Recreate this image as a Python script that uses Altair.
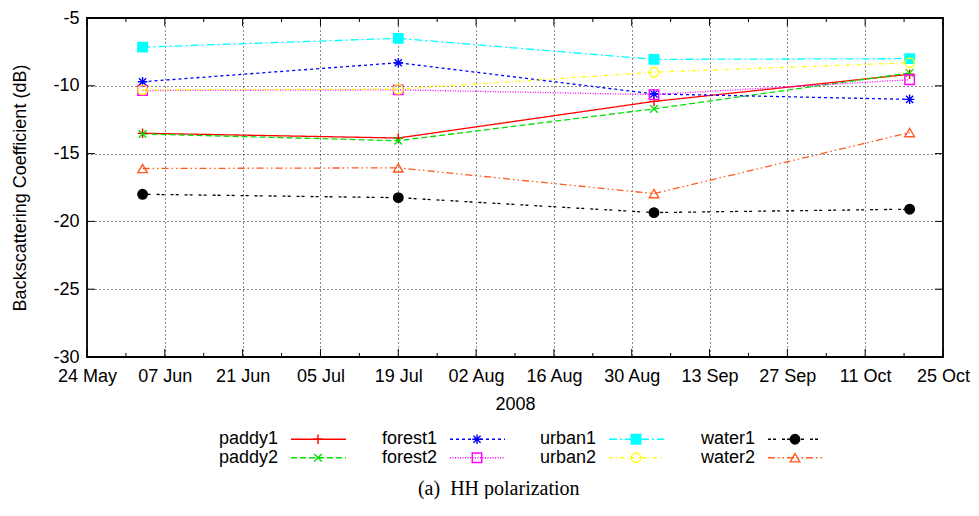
import altair as alt
import pandas as pd

# ---------------- data ----------------
dates = ["2008-06-03", "2008-07-19", "2008-09-03", "2008-10-19"]
series_names = ["paddy1", "paddy2", "forest1", "forest2",
                "urban1", "urban2", "water1", "water2"]
paddy1 = [-13.50, -13.85, -11.15, -9.15]
paddy2 = [-13.55, -14.05, -11.70, -9.05]
forest1 = [-9.70, -8.30, -10.60, -11.00]
forest2 = [-10.35, -10.30, -10.65, -9.55]
urban1 = [-7.15, -6.50, -8.05, -8.00]
urban2 = [-10.30, -10.25, -9.00, -8.30]
water1 = [-18.00, -18.25, -19.35, -19.10]
water2 = [-16.10, -16.05, -17.95, -13.45]
values = [paddy1, paddy2, forest1, forest2, urban1, urban2, water1, water2]

x_major = ["2008-05-24", "2008-06-07", "2008-06-21", "2008-07-05", "2008-07-19",
           "2008-08-02", "2008-08-16", "2008-08-30", "2008-09-13", "2008-09-27",
           "2008-10-11", "2008-10-25"]
x_minor = ["2008-05-31", "2008-06-14", "2008-06-28", "2008-07-12", "2008-07-26",
           "2008-08-09", "2008-08-23", "2008-09-06", "2008-09-20", "2008-10-04",
           "2008-10-18"]
y_ticks = [-30, -25, -20, -15, -10, -5]

# ---------------- styles ----------------
colors = ["#ff0000", "#00e000", "#0000ff", "#ff00ff",
          "#00ffff", "#ffff00", "#000000", "#ff5a1f"]
fills = ["transparent", "transparent", "transparent", "transparent",
         "#00ffff", "transparent", "#000000", "transparent"]
dashes = [[1, 0], [6, 3], [3, 3], [1, 1.5],
          [8, 3, 2, 3], [4, 3, 1, 3], [3, 2, 3, 6], [7, 3, 1.5, 3, 1.5, 3]]
PLUS = "M-1,0H1M0,-1V1"
XMARK = "M-0.8,-0.8L0.8,0.8M-0.8,0.8L0.8,-0.8"
STAR = "M-1,0H1M0,-1V1M-0.75,-0.75L0.75,0.75M-0.75,0.75L0.75,-0.75"
shapes = [PLUS, XMARK, STAR, "square", "square", "circle", "circle", "triangle-up"]

SANS = "Liberation Sans"
FS = 18
W, H = 856, 339

rows = []
for name, vals in zip(series_names, values):
    for d, v in zip(dates, vals):
        rows.append({"series": name, "date": d, "value": v})
df = pd.DataFrame(rows)


def dt(s):
    y, m, d = (int(p) for p in s.split("-"))
    return alt.DateTime(year=y, month=m, date=d, utc=True)


xscale = alt.Scale(type="utc", domain=[dt(x_major[0]), dt(x_major[-1])])
yscale = alt.Scale(domain=[-30, -5])
color_scale = alt.Scale(domain=series_names, range=colors)
dash_scale = alt.Scale(domain=series_names, range=dashes)
shape_scale = alt.Scale(domain=series_names, range=shapes)
fill_scale = alt.Scale(domain=series_names, range=fills)

x_axis = alt.Axis(values=[dt(s) for s in x_major],
                  labelExpr="utcFormat(datum.value, '%d %b')",
                  ticks=False, domain=False, grid=True, gridDash=[1, 3],
                  gridColor="#000000", gridOpacity=0.9, labelFlush=False,
                  labelOverlap=False, labelBound=False, labelPadding=10,
                  titlePadding=10, title="2008")
y_axis = alt.Axis(values=y_ticks, labelExpr="'' + datum.value", ticks=False,
                  domain=False, grid=True, gridDash=[1, 3], gridColor="#000000",
                  gridOpacity=0.9, labelPadding=8, titlePadding=23,
                  title="Backscattering Coefficient (dB)")

lines = alt.Chart(df).mark_line(strokeWidth=1.3).encode(
    x=alt.X("date:T", scale=xscale, axis=x_axis),
    y=alt.Y("value:Q", scale=yscale, axis=y_axis),
    color=alt.Color("series:N", scale=color_scale, legend=None),
    strokeDash=alt.StrokeDash("series:N", scale=dash_scale, legend=None),
)

points = alt.Chart(df).mark_point(size=90, strokeWidth=1.4, opacity=1).encode(
    x=alt.X("date:T", scale=xscale),
    y=alt.Y("value:Q", scale=yscale),
    shape=alt.Shape("series:N", scale=shape_scale, legend=None),
    stroke=alt.Stroke("series:N", scale=color_scale, legend=None),
    fill=alt.Fill("series:N", scale=fill_scale, legend=None),
)

maj_df = pd.DataFrame({"date": x_major})
min_df = pd.DataFrame({"date": x_minor})
yt_df = pd.DataFrame({"value": y_ticks})

def xticks(data, length):
    base = alt.Chart(data).mark_rule(color="black", strokeWidth=1)
    bottom = base.encode(x=alt.X("date:T", scale=xscale), y=alt.value(H), y2=alt.value(H - length))
    top = base.encode(x=alt.X("date:T", scale=xscale), y=alt.value(0), y2=alt.value(length))
    return [bottom, top]

ybase = alt.Chart(yt_df).mark_rule(color="black", strokeWidth=1)
yleft = ybase.encode(y=alt.Y("value:Q", scale=yscale), x=alt.value(0), x2=alt.value(8))
yright = ybase.encode(y=alt.Y("value:Q", scale=yscale), x=alt.value(W), x2=alt.value(W - 8))

main = alt.layer(lines, *xticks(maj_df, 8), *xticks(min_df, 4), yleft, yright, points).properties(
    width=W, height=H,
    view=alt.ViewBackground(stroke="black", strokeWidth=1.8),
)

# ---------------- legend (gnuplot style: label, then sample) ----------------
COLW = 159
TEXT_END0 = 191
LH = 37
leg_df = pd.DataFrame({"series": series_names,
                       "col": [i // 2 for i in range(len(series_names))],
                       "row": [i % 2 for i in range(len(series_names))]})
lx = alt.Scale(domain=[-TEXT_END0 / COLW, (W - TEXT_END0) / COLW])
ly = alt.Scale(domain=[-0.5, 1.5], reverse=True)
lbase = alt.Chart(leg_df)
ltext = lbase.mark_text(align="right", baseline="middle", font=SANS, fontSize=FS,
                        color="black").encode(
    x=alt.X("col:Q", scale=lx, axis=None), y=alt.Y("row:Q", scale=ly, axis=None),
    text="series:N")
lrule = lbase.mark_rule(xOffset=13, x2Offset=68, strokeWidth=1.3).encode(
    x=alt.X("col:Q", scale=lx, axis=None), x2="col:Q",
    y=alt.Y("row:Q", scale=ly, axis=None),
    color=alt.Color("series:N", scale=color_scale, legend=None),
    strokeDash=alt.StrokeDash("series:N", scale=dash_scale, legend=None))
lpts = lbase.mark_point(xOffset=40, size=90, strokeWidth=1.4, opacity=1).encode(
    x=alt.X("col:Q", scale=lx, axis=None), y=alt.Y("row:Q", scale=ly, axis=None),
    shape=alt.Shape("series:N", scale=shape_scale, legend=None),
    stroke=alt.Stroke("series:N", scale=color_scale, legend=None),
    fill=alt.Fill("series:N", scale=fill_scale, legend=None))
legend = alt.layer(ltext, lrule, lpts).properties(width=W, height=LH)

chart = alt.vconcat(main, legend, spacing=16).properties(
    padding={"left": 3, "top": 0, "right": 0, "bottom": 0},
    title=alt.TitleParams(text="(a)\u00a0\u00a0HH polarization", orient="bottom",
                          anchor="middle", font="Liberation Serif", fontSize=20,
                          fontWeight="normal", color="black", offset=12, dx=8),
).configure_view(strokeWidth=0).configure_axis(
    labelFont=SANS, titleFont=SANS, labelFontSize=FS, titleFontSize=FS,
    titleFontWeight="normal", labelColor="black", titleColor="black",
)

chart.save("out.html", embed_options={"renderer": "svg", "actions": False})
